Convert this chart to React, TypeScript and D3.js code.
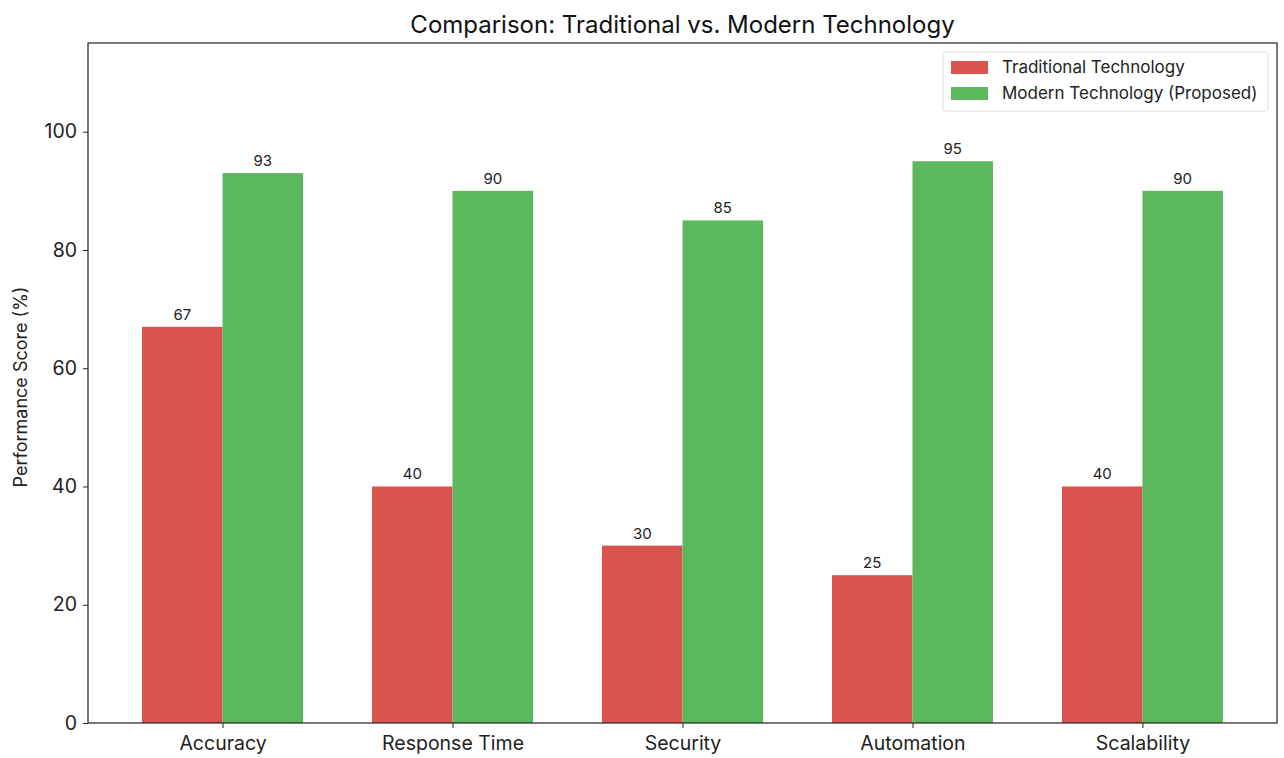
import { useRef, useEffect } from "react";
import * as d3 from "d3";

const categories = ["Accuracy", "Response Time", "Security", "Automation", "Scalability"];
const traditional = [67, 40, 30, 25, 40];
const modern = [93, 90, 85, 95, 90];
const seriesNames = ["Traditional Technology", "Modern Technology (Proposed)"];
const yTicks = [0, 20, 40, 60, 80, 100];

const COLORS = ["#d9534f", "#5cb85c"];
const FONT = "Inter, 'Noto Sans', sans-serif";

function App() {
  const svgRef = useRef<SVGSVGElement>(null);
  const width = 1284;
  const height = 758;

  useEffect(() => {
    const svg = d3.select(svgRef.current);
    svg.selectAll("*").remove();

    const left = 88, right = 1277, top = 43, bottom = 723;
    const barW = 0.35;

    // matplotlib-like x: integer positions with 5% margins
    const lo = -barW, hi = categories.length - 1 + barW;
    const pad = (hi - lo) * 0.05;
    const x = d3.scaleLinear().domain([lo - pad, hi + pad]).range([left, right]);
    const y = d3.scaleLinear().domain([0, 115]).range([bottom, top]);

    const g = svg.append("g").style("font-family", FONT);

    // bars + value labels
    [traditional, modern].forEach((vals, s) => {
      g.selectAll(`.bar${s}`)
        .data(vals)
        .join("rect")
        .attr("x", (_, i) => x(s === 0 ? i - barW : i))
        .attr("y", (d) => y(d))
        .attr("width", x(barW) - x(0))
        .attr("height", (d) => y(0) - y(d))
        .attr("fill", COLORS[s]);

      g.selectAll(`.lbl${s}`)
        .data(vals)
        .join("text")
        .attr("x", (_, i) => x(s === 0 ? i - barW / 2 : i + barW / 2))
        .attr("y", (d) => y(d) - 7)
        .attr("text-anchor", "middle")
        .attr("font-size", 15)
        .attr("fill", "#222")
        .text((d) => d);
    });

    // frame
    g.append("rect")
      .attr("x", left).attr("y", top)
      .attr("width", right - left).attr("height", bottom - top)
      .attr("fill", "none").attr("stroke", "#222").attr("stroke-width", 1.2);

    // y axis
    const yAxis = g.append("g").attr("transform", `translate(${left},0)`)
      .call(d3.axisLeft(y).tickValues(yTicks).tickSize(5).tickPadding(6));
    yAxis.select(".domain").remove();
    yAxis.selectAll("text").attr("font-size", 19.5).attr("font-family", FONT).attr("fill", "#222");
    yAxis.selectAll("line").attr("stroke", "#222");

    // x axis
    const xAxis = g.append("g").attr("transform", `translate(0,${bottom})`)
      .call(d3.axisBottom(x).tickValues(d3.range(categories.length))
        .tickFormat((i) => categories[i as number]).tickSize(5).tickPadding(8));
    xAxis.select(".domain").remove();
    xAxis.selectAll("text").attr("font-size", 19.5).attr("font-family", FONT).attr("fill", "#222");
    xAxis.selectAll("line").attr("stroke", "#222");

    // y label
    g.append("text")
      .attr("transform", `translate(27,${(top + bottom) / 2 + 4}) rotate(-90)`)
      .attr("text-anchor", "middle")
      .attr("font-size", 18)
      .attr("fill", "#222")
      .text("Performance Score (%)");

    // title
    g.append("text")
      .attr("x", (left + right) / 2)
      .attr("y", 33)
      .attr("text-anchor", "middle")
      .attr("font-size", 24)
      .attr("fill", "#111")
      .text("Comparison: Traditional vs. Modern Technology");

    // legend
    const leg = g.append("g").attr("transform", "translate(943,52)");
    leg.append("rect")
      .attr("width", 325).attr("height", 59).attr("rx", 3)
      .attr("fill", "white").attr("stroke", "#ddd");
    seriesNames.forEach((name, i) => {
      leg.append("rect")
        .attr("x", 8).attr("y", 9 + i * 26)
        .attr("width", 37).attr("height", 13)
        .attr("fill", COLORS[i]);
      leg.append("text")
        .attr("x", 59).attr("y", 21 + i * 26)
        .attr("font-size", 17)
        .attr("fill", "#222")
        .text(name);
    });
  }, []);

  return (
    <svg ref={svgRef} width={width} height={height}
      style={{ position: "absolute", left: 0, top: 0, background: "white" }} />
  );
}

export default App;
